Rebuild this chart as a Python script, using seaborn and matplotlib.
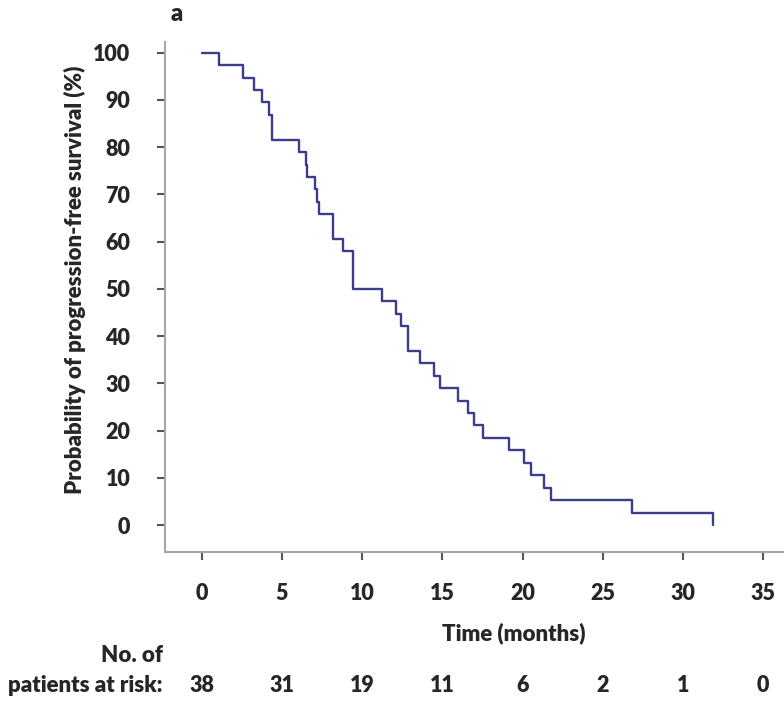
import matplotlib
matplotlib.use("Agg")
import matplotlib.pyplot as plt
import matplotlib.transforms as mtransforms
import pandas as pd
import seaborn as sns

# Kaplan-Meier step points (months, % progression-free)
event_months = [0, 1.07, 2.58, 3.25, 3.74, 4.21, 4.36, 6.07, 6.49, 6.55, 7.07,
                7.17, 7.28, 8.21, 8.83, 9.41, 11.25, 12.08, 12.45, 12.83, 13.63,
                14.45, 14.87, 15.97, 16.63, 16.99, 17.56, 19.18, 20.09, 20.51,
                21.35, 21.77, 26.84, 31.89]
survival_pct = [100, 97.4, 94.7, 92.1, 89.5, 86.8, 81.6, 78.9, 76.3, 73.7, 71.1,
                68.4, 65.8, 60.5, 57.9, 50.0, 47.4, 44.7, 42.1, 36.8, 34.2,
                31.6, 28.9, 26.3, 23.7, 21.1, 18.4, 15.8, 13.2, 10.5,
                7.9, 5.3, 2.6, 0]

risk_months = [0, 5, 10, 15, 20, 25, 30, 35]
at_risk = [38, 31, 19, 11, 6, 2, 1, 0]
y_ticks = [0, 10, 20, 30, 40, 50, 60, 70, 80, 90, 100]

sns.set_style("white")
plt.rcParams['font.family'] = ['Lato', 'DejaVu Sans']
WEIGHT = 'heavy'
FS = 16

fig = plt.figure(figsize=(7.84, 7.06), dpi=100)
W, H = 784, 706
ax = fig.add_axes([165 / W, 1 - 551.5 / H, (784 - 165) / W, (551.5 - 41.7) / H])

df = pd.DataFrame({"month": event_months, "pfs": survival_pct})
sns.lineplot(data=df, x="month", y="pfs", ax=ax, estimator=None,
             drawstyle="steps-post", color="#3c3c8c", linewidth=1.7)

ax.set_xlim(-2.29, 36.3)
ax.set_ylim(-5.6, 102.3)
ax.set_xticks(risk_months)
ax.set_yticks(y_ticks)
ax.set_xlabel("")
ax.set_ylabel("")

for side in ["top", "right"]:
    ax.spines[side].set_visible(False)
for side in ["left", "bottom"]:
    ax.spines[side].set_color("#a6a6a6")
    ax.spines[side].set_linewidth(1.5)

ax.tick_params(axis="both", which="major", length=6, width=1.5, color="#555555",
               labelsize=15.5, direction="out", bottom=True, left=True)
ax.tick_params(axis="x", pad=17)
ax.tick_params(axis="y", pad=19)
for lab in ax.get_xticklabels() + ax.get_yticklabels():
    lab.set_fontweight(WEIGHT)

# axis titles and panel letter
fig.text(514 / W, 1 - 633 / H, "Time (months)", ha="center", va="center",
         fontsize=FS, fontweight=WEIGHT)
fig.text(75 / W, 1 - 280 / H, "Probability of progression-free survival (%)",
         ha="center", va="center", rotation=90, fontsize=FS, fontweight=WEIGHT)
fig.text(177 / W, 1 - 14 / H, "a", ha="center", va="center",
         fontsize=17, fontweight=WEIGHT)

# number at risk table
fig.text(163 / W, 1 - 656 / H, "No. of", ha="right", va="center",
         fontsize=FS, fontweight=WEIGHT)
fig.text(163 / W, 1 - 686 / H, "patients at risk:", ha="right", va="center",
         fontsize=FS, fontweight=WEIGHT)
trans = mtransforms.blended_transform_factory(ax.transData, fig.transFigure)
for m, n in zip(risk_months, at_risk):
    ax.text(m, 1 - 686 / H, str(n), transform=trans, ha="center", va="center",
            fontsize=15.5, fontweight=WEIGHT, clip_on=False)

fig.savefig("out.png", dpi=100)
